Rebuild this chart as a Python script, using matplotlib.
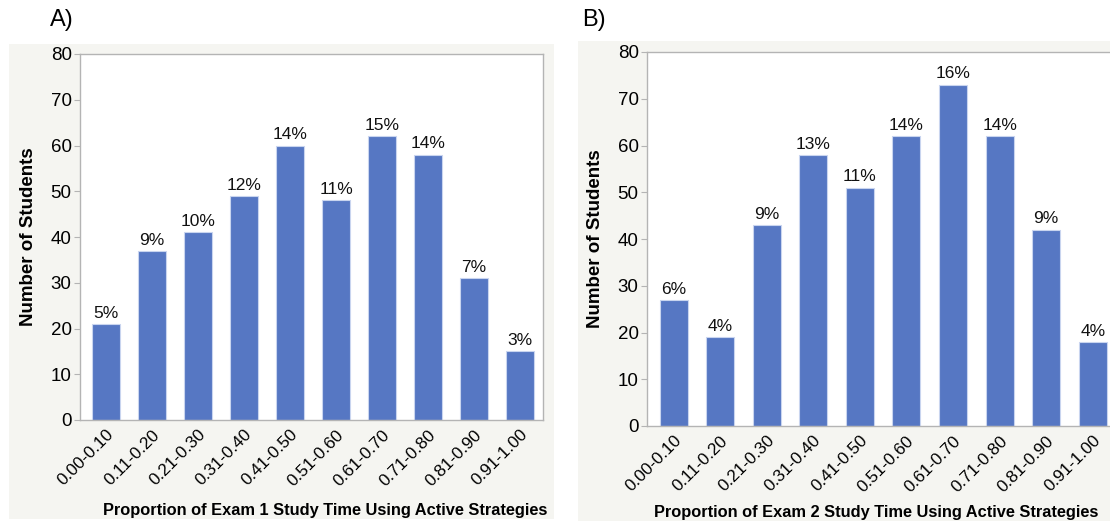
import matplotlib.pyplot as plt
from matplotlib.patches import Rectangle

plt.rcParams['font.family'] = ['Liberation Sans', 'DejaVu Sans']

bins = ['0.00-0.10', '0.11-0.20', '0.21-0.30', '0.31-0.40', '0.41-0.50',
        '0.51-0.60', '0.61-0.70', '0.71-0.80', '0.81-0.90', '0.91-1.00']

exam1_counts = [21, 37, 41, 49, 60, 48, 62, 58, 31, 15]
exam1_pct = ['5%', '9%', '10%', '12%', '14%', '11%', '15%', '14%', '7%', '3%']

exam2_counts = [27, 19, 43, 58, 51, 62, 73, 62, 42, 18]
exam2_pct = ['6%', '4%', '9%', '13%', '11%', '14%', '16%', '14%', '9%', '4%']

W, H = 1110, 521
fig = plt.figure(figsize=(W / 100, H / 100), dpi=100)
fig.patch.set_facecolor('white')

bar_color = '#5677c3'
frame_color = '#b4b4b4'
panel_bg = '#f5f5f1'


def px_box(x0, y0, x1, y1):
    # pixel box (top-left origin) -> figure fraction rect
    return [x0 / W, 1 - y1 / H, (x1 - x0) / W, (y1 - y0) / H]


def draw_panel(rect, counts, pct, xlim):
    ax = fig.add_axes(rect)
    x = list(range(len(bins)))
    ax.bar(x, counts, width=0.6, color=bar_color, edgecolor='#c9d5ef', linewidth=0.8)
    for xi, c, p in zip(x, counts, pct):
        ax.text(xi, c + 0.7, p, ha='center', va='bottom', fontsize=12.5, color='#111111')
    ax.set_xlim(*xlim)
    ax.set_ylim(0, 80)
    ax.set_yticks(range(0, 81, 10))
    ax.set_xticks(x)
    ax.set_xticklabels(bins, rotation=45, ha='right', rotation_mode='anchor', fontsize=12.3)
    ax.tick_params(axis='x', length=0, pad=5)
    ax.tick_params(axis='y', length=4, width=0.8, color=frame_color, labelsize=13.5, pad=2)
    for s in ax.spines.values():
        s.set_color(frame_color)
        s.set_linewidth(1.0)
    ax.set_ylabel('Number of Students', fontsize=13.5, fontweight='bold', labelpad=10)
    return ax


# grey panel backgrounds
fig.patches.append(Rectangle((9 / W, 1 - 519 / H), (554 - 9) / W, (519 - 44) / H,
                             transform=fig.transFigure, facecolor=panel_bg,
                             edgecolor='none', zorder=-10))
fig.patches.append(Rectangle((578 / W, 1 - 530 / H), (1120 - 578) / W, (530 - 41) / H,
                             transform=fig.transFigure, facecolor=panel_bg,
                             edgecolor='none', zorder=-10))

ax1 = draw_panel(px_box(80, 54, 543, 420), exam1_counts, exam1_pct, (-0.57, 9.5))
ax2 = draw_panel(px_box(647, 52, 1116, 426), exam2_counts, exam2_pct, (-0.57, 9.5))

fig.text(325 / W, 1 - 510 / H, 'Proportion of Exam 1 Study Time Using Active Strategies',
         ha='center', va='center', fontsize=11.8, fontweight='bold')
fig.text(654 / W, 1 - 512 / H, 'Proportion of Exam 2 Study Time Using Active Strategies',
         ha='left', va='center', fontsize=11.8, fontweight='bold')

fig.text(50 / W, 1 - 20 / H, 'A)', ha='left', va='center', fontsize=17)
fig.text(582 / W, 1 - 20 / H, 'B)', ha='left', va='center', fontsize=17)

fig.savefig('out.png', dpi=100)
